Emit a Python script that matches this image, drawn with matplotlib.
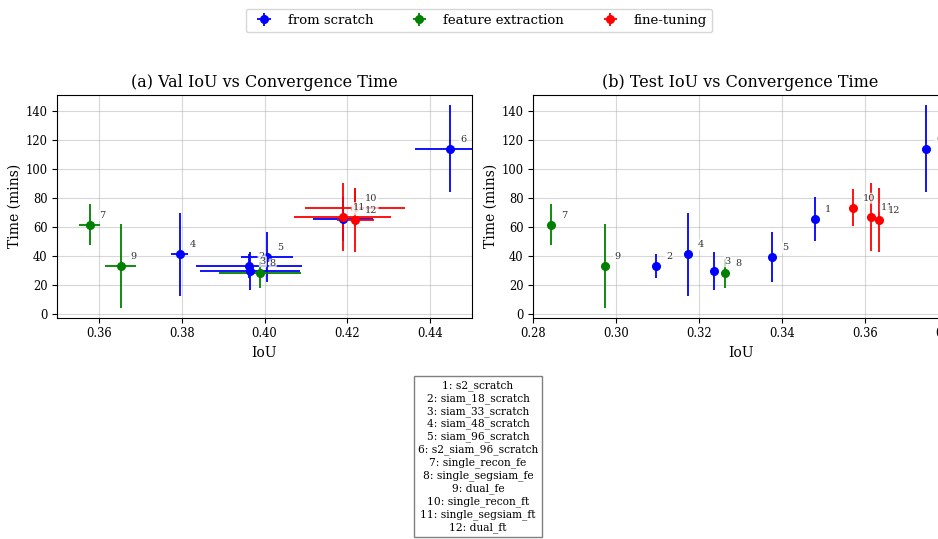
import matplotlib
matplotlib.use("Agg")
import matplotlib.pyplot as plt

# run ids and groups
run_ids = [1, 2, 3, 4, 5, 6, 7, 8, 9, 10, 11, 12]
run_names = ["s2_scratch", "siam_18_scratch", "siam_33_scratch", "siam_48_scratch",
             "siam_96_scratch", "s2_siam_96_scratch", "single_recon_fe",
             "single_segsiam_fe", "dual_fe", "single_recon_ft",
             "single_segsiam_ft", "dual_ft"]
run_group = ["from scratch"] * 6 + ["feature extraction"] * 3 + ["fine-tuning"] * 3

# convergence time (mins), mean and std
time_mean = [65.4, 33.4, 29.7, 41.4, 39.3, 113.9, 61.7, 28.2, 33.4, 73.4, 67.0, 65.1]
time_std = [15.0, 8.1, 13.0, 28.5, 17.3, 30.0, 14.0, 10.0, 28.7, 12.7, 23.5, 22.0]

# validation IoU, mean and std
val_iou = [0.4189, 0.3962, 0.3965, 0.3795, 0.4006, 0.4448, 0.3578, 0.3989, 0.3653,
           0.4218, 0.4189, 0.4219]
val_iou_std = [0.0072, 0.0128, 0.0120, 0.0021, 0.0062, 0.0085, 0.0026, 0.0098, 0.0038,
               0.0120, 0.0117, 0.0045]

# test IoU
test_iou = [0.3480, 0.3097, 0.3237, 0.3174, 0.3377, 0.3748, 0.2843, 0.3263, 0.2972,
            0.3571, 0.3615, 0.3633]

group_colors = {"from scratch": "blue", "feature extraction": "green", "fine-tuning": "red"}

plt.rcParams['font.family'] = 'serif'

fig = plt.figure(figsize=(9.38, 5.39), dpi=100)
ax1 = fig.add_axes([0.0611, 0.4106, 0.4418, 0.4131])
ax2 = fig.add_axes([0.5686, 0.4106, 0.4418, 0.4131])

label_box = dict(boxstyle='round,pad=0.1', fc='white', ec='none', alpha=0.75)


def plot_panel(ax, iou, iou_err, title):
    seen = set()
    for i in range(len(run_ids)):
        grp = run_group[i]
        lab = grp if grp not in seen else None
        seen.add(grp)
        ax.errorbar(iou[i], time_mean[i], yerr=time_std[i],
                    xerr=None if iou_err is None else iou_err[i],
                    fmt='o', color=group_colors[grp], ms=5.5, elinewidth=1.3,
                    capsize=0, label=lab)
        ax.annotate(str(run_ids[i]), (iou[i], time_mean[i]), xytext=(7, 5),
                    textcoords='offset points', fontsize=7, color='#333333',
                    bbox=label_box, zorder=5)
    ax.set_title(title, fontsize=11.5)
    ax.set_xlabel('IoU', fontsize=10)
    ax.set_ylabel('Time (mins)', fontsize=10, labelpad=3)
    ax.tick_params(labelsize=8.3)
    ax.grid(True, alpha=0.5)
    ax.set_yticks(range(0, 141, 20))


plot_panel(ax1, val_iou, val_iou_std, '(a) Val IoU vs Convergence Time')
plot_panel(ax2, test_iou, None, '(b) Test IoU vs Convergence Time')
ax1.set_xlim(0.35, 0.45)
ax2.set_xlim(0.28, 0.38)

handles, labels = ax1.get_legend_handles_labels()
fig.legend(handles, labels, loc='upper center', ncol=3, fontsize=9.5,
           bbox_to_anchor=(479 / 938, 1 - 2 / 539), columnspacing=2.5)

key_text = "\n".join(f"{i}: {n}" for i, n in zip(run_ids, run_names))
fig.text(478 / 938, 0.153, key_text, ha='center', va='center', fontsize=7.7,
         linespacing=1.28,
         bbox=dict(boxstyle='square,pad=0.4', fc='white', ec='gray'))

fig.savefig('out.png', dpi=100)
